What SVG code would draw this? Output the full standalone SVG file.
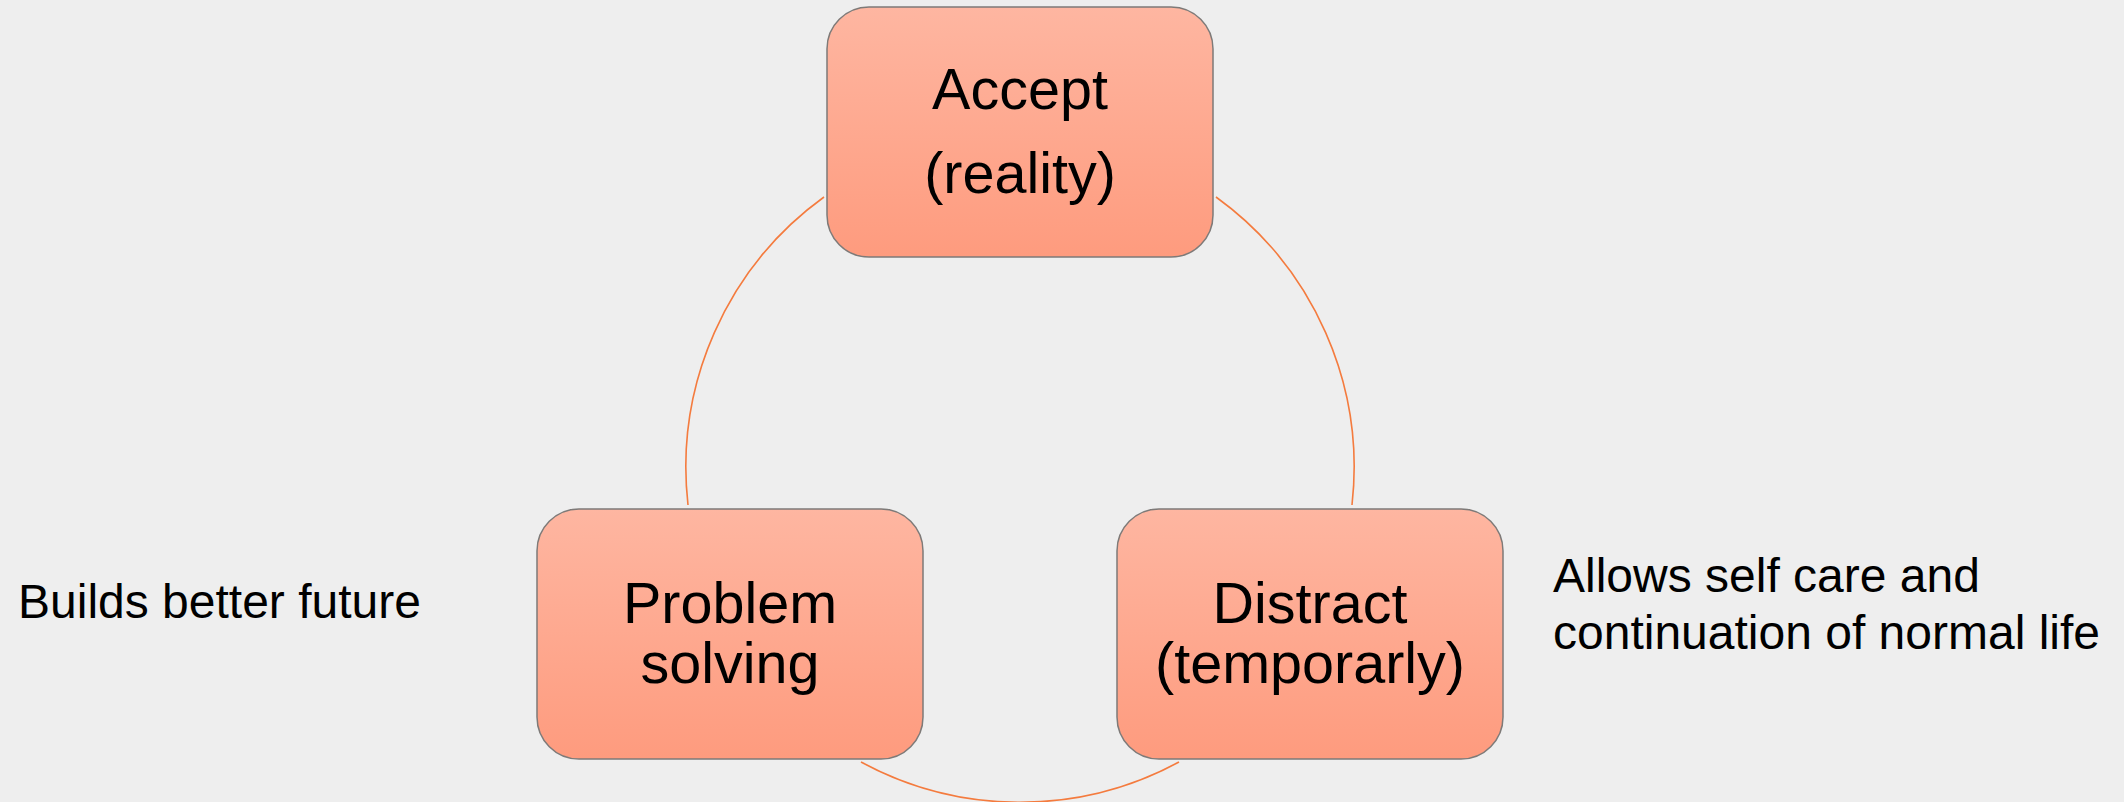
<svg xmlns="http://www.w3.org/2000/svg" width="2124" height="802" viewBox="0 0 2124 802">
  <defs>
    <linearGradient id="boxGrad" x1="0" y1="0" x2="0" y2="1">
      <stop offset="0" stop-color="#FEB6A1"/>
      <stop offset="1" stop-color="#FE9B7E"/>
    </linearGradient>
  </defs>
  <style>
    .box { fill: url(#boxGrad); stroke: #7E7A78; stroke-width: 1.5; }
    .lbl { font-family: "Liberation Sans", Arial, sans-serif; font-size: 57.5px; fill: #000; text-anchor: middle; }
    .note { font-family: "Liberation Sans", Arial, sans-serif; font-size: 48px; fill: #000; }
    .arc { fill: none; stroke: #F47B3E; stroke-width: 1.6; }
  </style>
  <rect width="2124" height="802" fill="#EEEEEE"/>
  <g id="connectors">
    <path class="arc" d="M 824 197 A 334 334 0 0 0 688 505"/>
    <path class="arc" d="M 1216 197 A 334 334 0 0 1 1352 505"/>
    <path class="arc" d="M 861 762 A 334 334 0 0 0 1179 762"/>
  </g>
  <g id="accept">
    <rect class="box" x="827" y="7" width="386" height="250" rx="42" ry="42"/>
    <text class="lbl" x="1020" y="109">Accept</text>
    <text class="lbl" x="1020" y="193">(reality)</text>
  </g>
  <g id="problem-solving">
    <rect class="box" x="537" y="509" width="386" height="250" rx="42" ry="42"/>
    <text class="lbl" x="730" y="623">Problem</text>
    <text class="lbl" x="730" y="683">solving</text>
  </g>
  <g id="distract">
    <rect class="box" x="1117" y="509" width="386" height="250" rx="42" ry="42"/>
    <text class="lbl" x="1310" y="623">Distract</text>
    <text class="lbl" x="1310" y="683">(temporarly)</text>
  </g>
  <g id="note-left">
    <text class="note" x="18" y="618">Builds better future</text>
  </g>
  <g id="note-right">
    <text class="note" x="1553" y="592">Allows self care and</text>
    <text class="note" x="1553" y="649">continuation of normal life</text>
  </g>
</svg>
